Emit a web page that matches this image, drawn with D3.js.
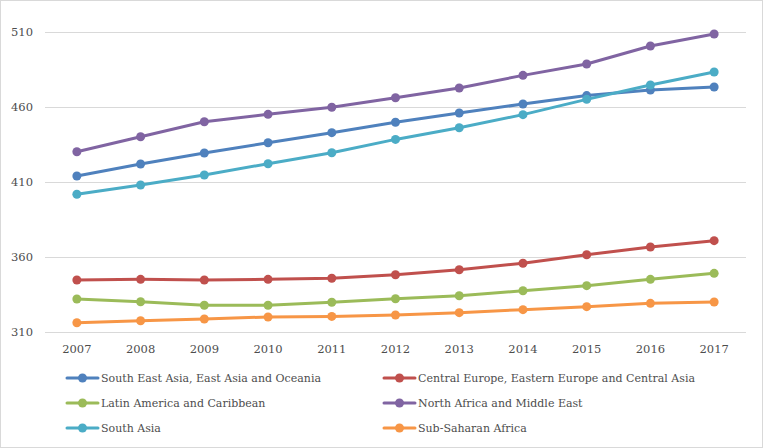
<!DOCTYPE html>
<html><head><meta charset="utf-8">
<script src="https://cdn.jsdelivr.net/npm/d3@7"></script>
<style>html,body{margin:0;padding:0;background:#fff;}svg{display:block;}</style>
</head><body>
<script>
const years = ["2007","2008","2009","2010","2011","2012","2013","2014","2015","2016","2017"];
const yTicks = [310, 360, 410, 460, 510];
const seAsia = [414.0, 422.0, 429.3, 436.2, 442.9, 449.8, 456.0, 462.0, 467.6, 471.3, 473.3];
const centralEurope = [344.7, 345.1, 344.7, 345.1, 345.8, 348.2, 351.5, 355.8, 361.5, 366.7, 370.9];
const latinAmerica = [332.0, 330.2, 327.8, 327.8, 329.8, 332.2, 334.2, 337.5, 340.9, 345.1, 349.1];
const northAfrica = [430.2, 440.2, 450.2, 455.1, 459.8, 466.2, 472.7, 481.1, 488.7, 500.7, 508.7];
const southAsia = [401.8, 408.0, 414.7, 422.2, 429.5, 438.4, 446.2, 454.9, 465.1, 474.7, 483.3];
const subSaharan = [316.2, 317.5, 318.7, 320.0, 320.4, 321.3, 322.9, 324.9, 326.9, 329.1, 330.0];
const seriesNames = ["South East Asia, East Asia and Oceania","Central Europe, Eastern Europe and Central Asia","Latin America and Caribbean","North Africa and Middle East","South Asia","Sub-Saharan Africa"];
const seriesColors = ["#4F81BD","#C0504D","#9BBB59","#8064A2","#4BACC6","#F79646"];
const seriesValues = [seAsia, centralEurope, latinAmerica, northAfrica, southAsia, subSaharan];

const W = 763, H = 448;
const font = "'DejaVu Serif', serif";
const svg = d3.select("body").append("svg").attr("width", W).attr("height", H);
svg.append("rect").attr("x",0.5).attr("y",0.5).attr("width",W-1).attr("height",H-1)
  .attr("fill","#fff").attr("stroke","#d9d9d9");

const x = d3.scaleBand().domain(years).range([45, 746]);
const y = d3.scaleLinear().domain([310, 510]).range([332, 32]);

// gridlines
svg.append("g").selectAll("line").data(yTicks).join("line")
  .attr("x1",45).attr("x2",746).attr("y1",d=>y(d)+0.5).attr("y2",d=>y(d)+0.5)
  .attr("stroke","#d9d9d9").attr("stroke-width",1);

const yAxis = svg.append("g").attr("transform","translate(45,0)")
  .call(d3.axisLeft(y).tickValues(yTicks).tickSize(0).tickPadding(12));
yAxis.select(".domain").remove();
yAxis.selectAll("text").attr("font-family",font).attr("font-size",11.5).attr("fill","#4d4d4d");

const xAxis = svg.append("g").attr("transform","translate(0,332)")
  .call(d3.axisBottom(x).tickSize(0).tickPadding(13));
xAxis.select(".domain").remove();
xAxis.selectAll("text").attr("font-family",font).attr("font-size",11.5).attr("fill","#4d4d4d");

const line = d3.line().x((d,i)=>x(years[i])+x.bandwidth()/2).y(d=>y(d));
seriesValues.forEach((vals,k)=>{
  const g = svg.append("g");
  g.append("path").datum(vals).attr("d",line).attr("fill","none")
    .attr("stroke",seriesColors[k]).attr("stroke-width",3).attr("stroke-linejoin","round").attr("stroke-linecap","round");
  g.selectAll("circle").data(vals).join("circle")
    .attr("cx",(d,i)=>x(years[i])+x.bandwidth()/2).attr("cy",d=>y(d)).attr("r",4.5)
    .attr("fill",seriesColors[k]);
});

// legend
const legX = [67, 384], legY = [378, 403, 428];
seriesNames.forEach((name,k)=>{
  const lx = legX[k%2], ly = legY[Math.floor(k/2)];
  const g = svg.append("g").attr("transform",`translate(${lx},${ly})`);
  g.append("line").attr("x1",0).attr("x2",31).attr("y1",0).attr("y2",0)
    .attr("stroke",seriesColors[k]).attr("stroke-width",3).attr("stroke-linecap","round");
  g.append("circle").attr("cx",15.5).attr("cy",0).attr("r",4.5).attr("fill",seriesColors[k]);
  g.append("text").attr("x",34).attr("y",0).attr("dy","0.35em")
    .attr("font-family",font).attr("font-size",11).attr("fill","#4d4d4d").text(name);
});
</script>
</body></html>
